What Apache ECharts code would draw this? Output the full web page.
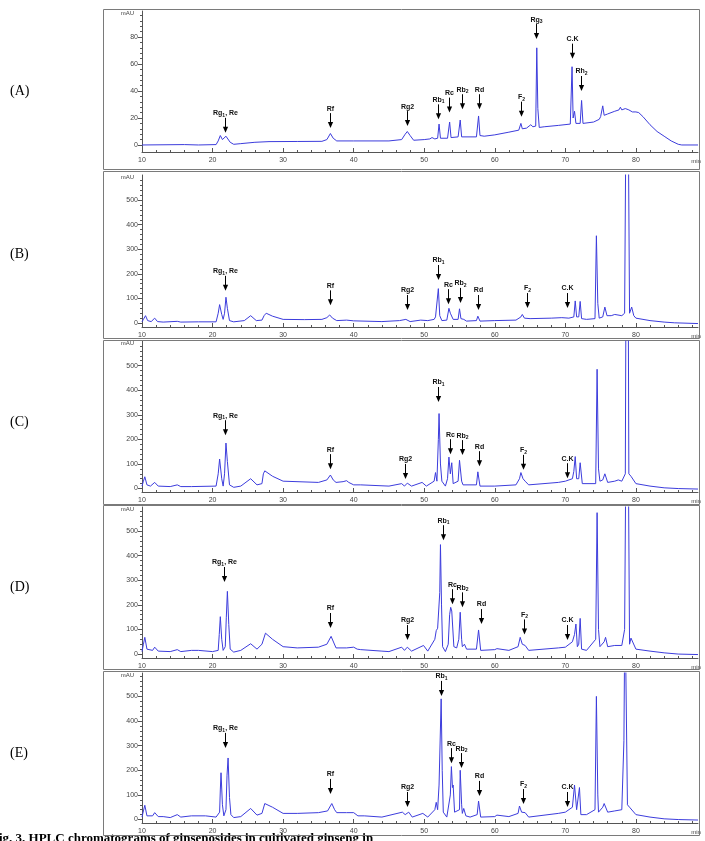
<!DOCTYPE html>
<html><head><meta charset="utf-8">
<script src="https://cdn.jsdelivr.net/npm/echarts@6/dist/echarts.min.js"></script>
<style>html,body{margin:0;padding:0;background:#fff}#c{width:705px;height:841px}</style>
</head><body><div id="c"></div>
<script>
// ---------- data ----------
const panelNames = ['(A)', '(B)', '(C)', '(D)', '(E)'];
const timeTicks = [10, 20, 30, 40, 50, 60, 70, 80];
const timeMinorTicks = [12,14,16,18,22,24,26,28,32,34,36,38,42,44,46,48,52,54,56,58,62,64,66,68,72,74,76,78,82,84,86,88];
const yTicksA = [0, 20, 40, 60, 80];
const yMinorA = [4,8,12,16,24,28,32,36,44,48,52,56,64,68,72,76,84,88,92,96];
const yTicksBE = [0, 100, 200, 300, 400, 500];
const yMinorBE = [20,40,60,80,120,140,160,180,220,240,260,280,320,340,360,380,420,440,460,480,520,540,560,580];

// chromatograms: [time (min), absorbance (mAU)]
const traceA = [[10,0],[16,0.3],[18,0],[20.5,0.3],[20.8,3],[21.1,7],[21.4,4],[21.6,3.5],[21.9,6.5],[22.1,6],[22.5,2],[23,0.5],[24,1],[26,2],[28,2.5],[32,2.6],[35.5,2.7],[36.2,4],[36.7,8.5],[37.1,5],[37.6,3],[40,3],[45,3],[46.8,4],[47.3,8],[47.6,10],[48,7],[48.5,3.5],[50,4],[50.8,4.5],[51.1,5.5],[51.5,4.5],[51.9,5],[52.1,15.5],[52.3,5],[53.3,5],[53.6,17],[53.8,5.5],[54.8,6],[55.1,18.5],[55.3,6],[57.4,6],[57.7,21.5],[57.9,7],[58.5,6.5],[60,7.5],[62,9.5],[63.4,11],[63.7,16],[63.9,12],[64.5,12.5],[65.1,15],[65.4,13.5],[65.8,14],[65.95,72],[66.1,27],[66.3,13],[67,13.5],[69,14.5],[70.7,15.5],[70.95,58],[71.1,20],[71.3,25],[71.5,16],[72.1,16],[72.3,33],[72.5,16],[74,17],[74.8,19],[75,21],[75.3,29],[75.5,22],[76,23],[77,25],[77.6,26],[77.8,28],[78,26],[78.5,27],[79,26],[79.5,24.5],[80,24.5],[80.4,24],[81,21],[82,15],[83,10],[84,6.5],[85,3],[86,0.5],[86.5,0],[88.8,0]];
const traceB = [[10,5],[10.2,15],[10.5,30],[10.8,10],[11.3,6],[11.8,20],[12.2,6],[13,4],[15,7],[15.5,4],[18,5],[20.5,5],[20.8,40],[21.0,75],[21.3,35],[21.5,15],[21.7,40],[21.9,105],[22.1,60],[22.4,10],[23,5],[24.5,10],[25.4,30],[26.2,10],[27,12],[27.3,30],[27.6,40],[28.5,28],[30,15],[33,14],[35.5,15],[36.2,22],[36.6,33],[37,20],[37.6,10],[39,12],[40,9],[44,6],[46.5,10],[47.4,15],[48,6],[49.5,12],[50.5,10],[51.4,15],[51.6,25],[51.8,20],[52.0,140],[52.2,30],[52.5,10],[53.2,12],[53.5,60],[53.7,40],[53.9,42],[54.1,15],[54.8,15],[55.0,58],[55.2,18],[55.6,15],[56,8],[57.4,10],[57.6,28],[57.9,8],[60,10],[63,12],[63.7,25],[63.9,35],[64.2,20],[65,18],[68,20],[69.5,22],[70.5,20],[71.2,25],[71.4,90],[71.6,25],[71.9,25],[72.1,88],[72.3,18],[73,15],[74.2,18],[74.4,355],[74.6,80],[74.8,20],[75.3,25],[75.6,65],[75.9,30],[76.5,30],[77,35],[78,30],[78.4,40],[78.6,900],[78.9,900],[79.1,40],[79.4,65],[79.7,30],[80,20],[82,10],[84,4],[85.5,1],[88.8,-2]];
const traceC = [[10,10],[10.2,30],[10.4,48],[10.7,15],[11.2,10],[11.8,25],[12.3,10],[14,8],[15,15],[15.5,8],[17,8],[20.5,10],[20.8,60],[21.0,120],[21.3,40],[21.5,10],[21.7,60],[21.9,185],[22.1,110],[22.4,15],[23,5],[24,10],[25.4,40],[26.3,15],[27,20],[27.2,60],[27.4,72],[28.5,50],[30,30],[35,25],[36.2,35],[36.7,55],[37.1,35],[37.5,25],[38.5,28],[39,32],[39.3,25],[40,15],[41,15],[45,10],[46.8,20],[47.2,10],[47.6,22],[48.2,10],[49.7,25],[50.3,10],[51.4,30],[51.6,65],[51.8,30],[52.0,200],[52.1,305],[52.3,100],[52.5,30],[53,10],[53.3,40],[53.5,128],[53.7,60],[53.9,105],[54.1,20],[54.8,30],[55.0,115],[55.3,30],[55.5,15],[57.4,15],[57.6,68],[57.9,10],[60,10],[63,15],[63.5,40],[63.7,65],[64.0,40],[64.3,30],[64.8,15],[69,25],[70,30],[71,40],[71.2,70],[71.4,130],[71.6,40],[71.9,40],[72.1,105],[72.4,20],[74.3,20],[74.5,485],[74.7,80],[74.9,30],[75.3,35],[75.6,60],[76,25],[77,30],[77.5,35],[78,30],[78.5,60],[78.6,900],[78.9,900],[79.0,60],[79.3,50],[80,20],[82,10],[84,3],[86,0],[88.8,-2]];
const traceD = [[10,10],[10.2,40],[10.4,68],[10.7,20],[11.5,15],[11.8,28],[12.3,12],[14,10],[15,18],[15.5,10],[17,15],[18,15],[20,10],[20.8,15],[20.95,80],[21.1,152],[21.3,60],[21.5,15],[21.8,30],[21.95,150],[22.1,255],[22.3,120],[22.5,20],[23,8],[24,15],[25.4,42],[26.3,20],[27,40],[27.5,85],[28.5,60],[30,30],[32,25],[35,28],[36.2,40],[36.8,72],[37.2,45],[37.5,25],[39,25],[40,28],[40.5,20],[41,18],[44,12],[45,10],[46.8,28],[47.2,15],[47.6,28],[48.2,12],[49.9,35],[50.5,12],[51.5,60],[51.7,95],[51.9,105],[52.1,100],[52.2,250],[52.3,445],[52.45,200],[52.6,30],[53,10],[53.4,40],[53.6,160],[53.75,190],[53.9,175],[54.0,180],[54.2,30],[54.6,25],[54.9,60],[55.1,170],[55.3,60],[55.4,30],[55.7,40],[56,20],[57.4,20],[57.7,98],[58,15],[60,18],[60.3,22],[62,15],[63.3,30],[63.6,68],[63.9,40],[64.3,35],[64.8,15],[69,25],[70,28],[71,50],[71.3,80],[71.5,122],[71.7,30],[71.9,40],[72.1,145],[72.3,20],[73,15],[74.3,60],[74.5,575],[74.7,100],[74.9,30],[75.5,50],[75.7,68],[76,30],[77,35],[78,35],[78.4,100],[78.6,900],[78.9,900],[79.1,40],[79.3,65],[80,20],[82,12],[84,5],[86,0],[88.8,-2]];
const traceE = [[10,10],[10.2,35],[10.4,58],[10.7,15],[11.5,15],[11.8,28],[12.3,12],[13,12],[14,8],[15,20],[15.5,10],[17,15],[19,15],[20.5,10],[21.0,30],[21.1,120],[21.2,190],[21.4,60],[21.6,15],[21.9,40],[22.05,180],[22.2,250],[22.4,90],[22.6,20],[23,8],[24,12],[25.4,45],[26.3,18],[27,25],[27.4,65],[28.5,50],[30,25],[32,25],[35,28],[36.3,35],[36.9,65],[37.3,40],[37.6,28],[39,28],[40,28],[40.6,15],[41.5,15],[44,10],[46.9,30],[47.3,20],[47.8,30],[48.3,10],[49.8,25],[50.5,10],[51.5,40],[51.7,70],[51.9,40],[52.1,140],[52.4,490],[52.55,200],[52.7,30],[53.2,10],[53.7,100],[53.85,215],[54.0,130],[54.1,140],[54.3,30],[55.0,40],[55.1,200],[55.3,60],[55.4,25],[55.6,45],[55.9,15],[56.5,10],[57.5,20],[57.7,75],[58,10],[60,12],[60.3,18],[62,12],[63.3,25],[63.5,55],[63.8,30],[64.3,28],[64.8,10],[69,25],[70,30],[71,50],[71.3,140],[71.6,40],[71.8,40],[72.0,130],[72.2,20],[73,20],[74.2,40],[74.4,500],[74.6,100],[74.7,30],[75.3,50],[75.5,65],[76,30],[77,35],[78,40],[78.3,320],[78.45,900],[78.7,900],[78.8,60],[79.1,50],[80,20],[82,10],[84,3],[86,0],[88.8,-2]];
const traces = [traceA, traceB, traceC, traceD, traceE];

// annotated peaks: [time, arrow tip (mAU)] and names ("_" = subscript)
const peaksA = [[21.7,9],[36.6,12.5],[47.6,14],[52.0,19],[53.5,24],[55.3,26.5],[57.8,26.5],[63.7,21],[65.8,78.5],[70.9,64],[72.2,40]];
const namesA = ['Rg_1, Re','Rf','Rg2','Rb_1','Rc','Rb_2','Rd','F_2','Rg_3','C.K','Rh_2'];
const peaksB = [[21.8,131],[36.6,72],[47.6,53],[52.0,175],[53.4,77],[55.1,82],[57.6,53],[64.5,61],[70.3,61]];
const peaksC = [[21.7,217],[36.6,79],[47.3,39],[51.9,352],[53.6,140],[55.3,136],[57.8,91],[64.0,76],[70.2,42]];
const peaksD = [[21.6,293],[36.6,106],[47.6,57],[52.6,463],[53.9,203],[55.3,190],[58.1,122],[64.2,80],[70.3,57]];
const peaksE = [[21.7,291],[36.6,104],[47.5,51],[52.4,502],[53.8,229],[55.2,209],[57.7,96],[64.0,63],[70.3,51]];
const namesBE = ['Rg_1, Re','Rf','Rg2','Rb_1','Rc','Rb_2','Rd','F_2','C.K'];
const peakSets = [peaksA, peaksB, peaksC, peaksD, peaksE];
const nameSets = [namesA, namesBE, namesBE, namesBE, namesBE];

// ---------- layout ----------
const panels = [
  {box:[103, 9, 596, 160],  top:11,  height:141, min:-5.2, max:99.3, ticks:yTicksA,  minor:yMinorA},
  {box:[103, 171, 596, 167],top:175, height:152, min:-16,  max:602,  ticks:yTicksBE, minor:yMinorBE},
  {box:[103, 340, 596, 164],top:341, height:151, min:-14,  max:600,  ticks:yTicksBE, minor:yMinorBE},
  {box:[103, 505, 596, 164],top:507, height:151, min:-16,  max:598,  ticks:yTicksBE, minor:yMinorBE},
  {box:[103, 671, 596, 164],top:673, height:150, min:-14,  max:595,  ticks:yTicksBE, minor:yMinorBE}
];
const XMIN = 10, XMAX = 88.8;
const LINE = '#3c3cdc';
const AX = '#555';

function rich(name) {
  return name.split(/(_\d)/).filter(s => s).map(s => s[0] === '_' ? '{s|' + s.slice(1) + '}' : '{n|' + s + '}').join('');
}

const grids = [], xAxes = [], yAxes = [], series = [], graphics = [];
panels.forEach((p, i) => {
  grids.push({left:142, width:556, top:p.top, height:p.height});
  xAxes.push({gridIndex:i, type:'value', min:XMIN, max:XMAX, position:'bottom',
    axisLine:{show:true, onZero:false, lineStyle:{color:AX, width:1}},
    axisTick:{show:true, inside:true, length:4, customValues:timeTicks, lineStyle:{color:AX}},
    axisLabel:{show:true, customValues:timeTicks, fontSize:7, color:'#444', margin:5, fontFamily:'Liberation Sans'},
    splitLine:{show:false}});
  xAxes.push({gridIndex:i, type:'value', min:XMIN, max:XMAX, position:'bottom',
    axisLine:{show:false, onZero:false},
    axisTick:{show:true, inside:true, length:2, customValues:timeMinorTicks, lineStyle:{color:AX}},
    axisLabel:{show:false}, splitLine:{show:false}});
  yAxes.push({gridIndex:i, type:'value', min:p.min, max:p.max, position:'left',
    axisLine:{show:true, onZero:false, lineStyle:{color:AX, width:1}},
    axisTick:{show:true, inside:false, length:4, customValues:p.ticks, lineStyle:{color:AX}},
    axisLabel:{show:true, customValues:p.ticks, fontSize:7, color:'#444', margin:4, fontFamily:'Liberation Sans'},
    splitLine:{show:false}});
  yAxes.push({gridIndex:i, type:'value', min:p.min, max:p.max, position:'left',
    axisLine:{show:false, onZero:false},
    axisTick:{show:true, inside:false, length:2, customValues:p.minor, lineStyle:{color:AX}},
    axisLabel:{show:false}, splitLine:{show:false}});
  series.push({type:'line', xAxisIndex:2*i, yAxisIndex:2*i, data:traces[i], showSymbol:false, symbol:'none',
    lineStyle:{color:LINE, width:1}, animation:false, clip:true, z:3});
  const names = nameSets[i];
  series.push({type:'custom', xAxisIndex:2*i, yAxisIndex:2*i, data:peakSets[i], animation:false, clip:false, z:5,
    renderItem: function (params, api) {
      const c = api.coord([api.value(0), api.value(1)]);
      const x = Math.round(c[0]) + 0.5, y = c[1];
      return {type:'group', children:[
        {type:'line', shape:{x1:x, y1:y-15, x2:x, y2:y-5}, style:{stroke:'#000', lineWidth:1}},
        {type:'polygon', shape:{points:[[x-2.6, y-6], [x+2.6, y-6], [x, y]]}, style:{fill:'#000'}},
        {type:'text', x:x, y:y-16, style:{text:rich(names[params.dataIndex]), align:'center', verticalAlign:'bottom',
          rich:{n:{fontSize:7, fontWeight:'bold', fontFamily:'Liberation Sans', fill:'#111', verticalAlign:'bottom'},
                s:{fontSize:5, fontWeight:'bold', fontFamily:'Liberation Sans', fill:'#111', verticalAlign:'bottom', padding:[0,0,-1,0]}}}}
      ]};
    }});
  graphics.push({type:'rect', shape:{x:p.box[0] + 0.5, y:p.box[1] + 0.5, width:p.box[2], height:p.box[3]},
    style:{fill:'none', stroke:'#7a7a7a', lineWidth:1}, z:1});
  graphics.push({type:'text', x:10, y:p.box[1] + p.box[3] / 2 + (i === 0 ? 2 : 0),
    style:{text:panelNames[i], font:'14px "Liberation Serif"', fill:'#000', verticalAlign:'middle', align:'left'}});
  graphics.push({type:'text', x:134, y:p.top + 2,
    style:{text:'mAU', font:'6px "Liberation Sans"', fill:'#444', align:'right', verticalAlign:'middle'}});
  graphics.push({type:'text', x:696, y:p.top + p.height + 9,
    style:{text:'min', font:'6px "Liberation Sans"', fill:'#444', align:'center', verticalAlign:'middle'}});
});
graphics.push({type:'text', x:-9, y:832,
  style:{text:'Fig. 3. HPLC chromatograms of ginsenosides in cultivated ginseng in', font:'bold 13px "Liberation Serif"', fill:'#000', align:'left', verticalAlign:'top'}});

const chart = echarts.init(document.getElementById('c'), null, {renderer:'canvas'});
chart.setOption({
  animation:false,
  backgroundColor:'#fff',
  grid:grids, xAxis:xAxes, yAxis:yAxes, series:series, graphic:graphics
});
</script></body></html>
